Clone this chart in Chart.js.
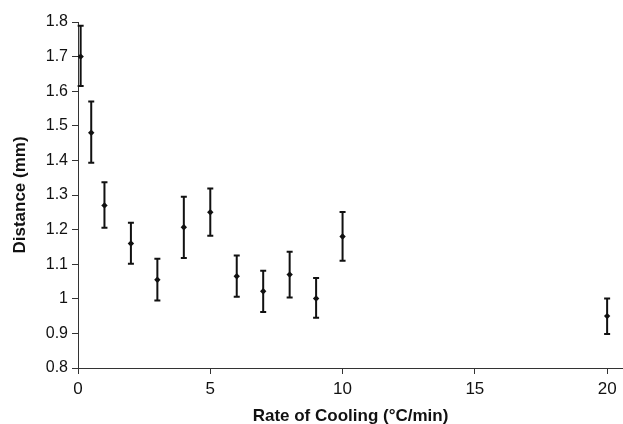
<!DOCTYPE html>
<html>
<head>
<meta charset="utf-8">
<script src="https://cdn.jsdelivr.net/npm/chart.js@4.4.0/dist/chart.umd.min.js"></script>
<style>
html,body{margin:0;padding:0;background:#fff;overflow:hidden;}
canvas{display:block;}
</style>
</head>
<body>
<canvas id="c" width="623" height="424"></canvas>
<script>
// Data
const coolingRates = [0.1, 0.5, 1, 2, 3, 4, 5, 6, 7, 8, 9, 10, 20];
const distances    = [1.70, 1.48, 1.27, 1.16, 1.055, 1.207, 1.25, 1.065, 1.022, 1.07, 1.001, 1.18, 0.95];
const errUpper     = [1.789, 1.570, 1.337, 1.220, 1.116, 1.295, 1.319, 1.125, 1.081, 1.136, 1.060, 1.251, 1.001];
const errLower     = [1.615, 1.393, 1.205, 1.101, 0.995, 1.118, 1.182, 1.006, 0.962, 1.004, 0.945, 1.110, 0.898];
const xTickValues  = [0, 5, 10, 15, 20];
const xTickLabels  = ["0", "5", "10", "15", "20"];
const yTickValues  = [0.8, 0.9, 1.0, 1.1, 1.2, 1.3, 1.4, 1.5, 1.6, 1.7, 1.8];
const yTickLabels  = ["0.8", "0.9", "1", "1.1", "1.2", "1.3", "1.4", "1.5", "1.6", "1.7", "1.8"];
const xTitle = "Rate of Cooling (\u00B0C/min)";
const yTitle = "Distance (mm)";

const points = coolingRates.map((x, i) => ({x: x, y: distances[i]}));

const errorBarPlugin = {
  id: 'errorBars',
  afterDatasetsDraw(chart) {
    const ctx = chart.ctx;
    const xs = chart.scales.x, ys = chart.scales.y;
    ctx.save();
    ctx.strokeStyle = '#111';
    ctx.lineWidth = 2;
    const cap = 3;
    coolingRates.forEach((xv, i) => {
      const px = xs.getPixelForValue(xv);
      const pt = ys.getPixelForValue(errUpper[i]);
      const pb = ys.getPixelForValue(errLower[i]);
      ctx.beginPath();
      ctx.moveTo(px, pt); ctx.lineTo(px, pb);
      ctx.moveTo(px - cap, pt); ctx.lineTo(px + cap, pt);
      ctx.moveTo(px - cap, pb); ctx.lineTo(px + cap, pb);
      ctx.stroke();
    });
    ctx.restore();
  }
};

Chart.defaults.font.family = '"Liberation Sans", Arial, Helvetica, sans-serif';
Chart.defaults.color = '#111';

new Chart(document.getElementById('c'), {
  type: 'scatter',
  data: {
    datasets: [{
      data: points,
      pointStyle: 'rectRot',
      pointRadius: 3.2,
      pointBackgroundColor: '#111',
      pointBorderColor: '#111',
      borderWidth: 0,
      showLine: false,
      clip: false
    }]
  },
  options: {
    responsive: false,
    animation: false,
    devicePixelRatio: 1,
    layout: {autoPadding: false, padding: {top: 22, right: 0, left: 0, bottom: 0}},
    plugins: {legend: {display: false}, tooltip: {enabled: false}},
    scales: {
      x: {
        type: 'linear',
        min: 0,
        max: 20.6,
        afterBuildTicks(scale) { scale.ticks = xTickValues.map(v => ({value: v})); },
        afterFit(scale) { scale.height = 56; scale.paddingRight = 0; scale.paddingLeft = 0; },
        ticks: {
          font: {size: 17},
          padding: 5,
          maxRotation: 0,
          callback: (v) => { const i = xTickValues.indexOf(v); return i >= 0 ? xTickLabels[i] : ''; }
        },
        grid: {display: true, drawOnChartArea: false, drawTicks: true, tickLength: 6, color: '#333', lineWidth: 1},
        border: {display: true, color: '#333', width: 1},
        title: {display: true, text: xTitle, font: {size: 17, weight: 'bold'}, padding: {top: 0, bottom: -3}}
      },
      y: {
        type: 'linear',
        min: 0.8,
        max: 1.8,
        afterBuildTicks(scale) { scale.ticks = yTickValues.map(v => ({value: v})); },
        afterFit(scale) { scale.width = 78; },
        ticks: {
          font: {size: 16},
          padding: 4,
          callback: (v) => {
            let idx = -1;
            yTickValues.forEach((t, i) => { if (Math.abs(t - v) < 1e-6) idx = i; });
            return idx >= 0 ? yTickLabels[idx] : '';
          }
        },
        grid: {display: true, drawOnChartArea: false, drawTicks: true, tickLength: 6, color: '#333', lineWidth: 1},
        border: {display: true, color: '#333', width: 1},
        title: {display: true, text: yTitle, font: {size: 17, weight: 'bold'}, padding: {top: 10, bottom: 0}}
      }
    }
  },
  plugins: [errorBarPlugin]
});
</script>
</body>
</html>
